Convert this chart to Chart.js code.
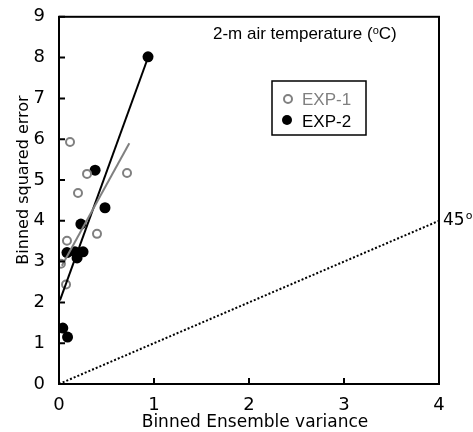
<!DOCTYPE html>
<html>
<head>
<meta charset="utf-8">
<script src="https://cdn.jsdelivr.net/npm/chart.js@4"></script>
<style>
  body { margin: 0; background: #fff; }
  #wrap { width: 473px; height: 432px; }
</style>
</head>
<body>
<div id="wrap"><canvas id="mycanvas"></canvas></div>
<script>
// EXP-1 (open grey circles)
var exp1X = [0.116, 0.295, 0.716, 0.2, 0.4, 0.084, 0.02, 0.074];
var exp1Y = [5.93, 5.15, 5.17, 4.68, 3.68, 3.51, 2.95, 2.44];
// EXP-2 (filled black circles)
var exp2X = [0.937, 0.38, 0.484, 0.23, 0.084, 0.168, 0.253, 0.19, 0.04, 0.09];
var exp2Y = [8.02, 5.24, 4.32, 3.92, 3.22, 3.24, 3.24, 3.09, 1.37, 1.15];
// fitted lines (end points)
var fit1X = [0.03, 0.74];
var fit1Y = [2.9, 5.9];
var fit2X = [0.01, 0.94];
var fit2Y = [2.05, 8.02];
// 45 degree line
var diagX = [0, 4];
var diagY = [0, 4];

var xTicks = [0, 1, 2, 3, 4];
var yTicks = [0, 1, 2, 3, 4, 5, 6, 7, 8, 9];

function pts(xs, ys) {
	var out = [];
	for (var i in xs) {
		out.push({x: xs[i], y: ys[i]});
	}
	return out;
}

var font = "'DejaVu Sans', Verdana, sans-serif";
var arial = "'Liberation Sans', Arial, sans-serif";

var extras = {
	id: 'extras',
	afterDraw: function(chart) {
		var ctx = chart.ctx;
		var a = chart.chartArea;
		var xs = chart.scales.x, ys = chart.scales.y;
		ctx.save();
		// frame
		ctx.strokeStyle = '#000';
		ctx.lineWidth = 2;
		ctx.strokeRect(a.left, a.top, a.right - a.left, a.bottom - a.top);
		// inward ticks
		ctx.beginPath();
		yTicks.forEach(function(v) {
			var p = ys.getPixelForValue(v);
			ctx.moveTo(a.left, p); ctx.lineTo(a.left + 6, p);
		});
		xTicks.forEach(function(v) {
			var p = xs.getPixelForValue(v);
			ctx.moveTo(p, a.bottom); ctx.lineTo(p, a.bottom - 6);
		});
		ctx.stroke();

		ctx.fillStyle = '#000';
		ctx.textBaseline = 'alphabetic';

		// axis titles
		ctx.font = '17px ' + font;
		ctx.textAlign = 'center';
		ctx.fillText('Binned Ensemble variance', 255, 427);
		ctx.save();
		ctx.translate(28, 180);
		ctx.rotate(-Math.PI / 2);
		ctx.font = '16px ' + font;
		ctx.fillText('Binned squared error', 0, 0);
		ctx.restore();

		// title text with superscript
		ctx.textAlign = 'left';
		ctx.font = '17px ' + arial;
		var tx = 213, ty = 39;
		var s1 = '2-m air temperature (';
		ctx.fillText(s1, tx, ty);
		tx += ctx.measureText(s1).width;
		ctx.font = '11px ' + arial;
		ctx.fillText('o', tx, ty - 5);
		tx += ctx.measureText('o').width;
		ctx.font = '17px ' + arial;
		ctx.fillText('C)', tx, ty);

		// 45 label
		ctx.font = '17px ' + font;
		var lx = 443, ly = 225;
		ctx.fillText('45', lx, ly);
		var w45 = ctx.measureText('45').width;
		ctx.font = '11px ' + font;
		ctx.fillText('o', lx + w45 + 1, ly - 6);

		// legend box
		ctx.lineWidth = 1.5;
		ctx.strokeRect(272, 81, 94, 54);
		ctx.font = '17px ' + arial;
		ctx.lineWidth = 2;
		ctx.strokeStyle = '#808080';
		ctx.beginPath(); ctx.arc(288, 99, 4, 0, Math.PI * 2); ctx.stroke();
		ctx.fillStyle = '#808080';
		ctx.fillText('EXP-1', 302, 105);
		ctx.fillStyle = '#000';
		ctx.beginPath(); ctx.arc(287, 120, 5, 0, Math.PI * 2); ctx.fill();
		ctx.fillText('EXP-2', 302, 126.5);
		ctx.restore();
	}
};

var chartdata = {
	datasets: [
		{
			label: '45',
			data: pts(diagX, diagY),
			showLine: true,
			borderColor: '#000',
			borderWidth: 2,
			borderDash: [2, 2],
			pointRadius: 0
		},
		{
			label: 'fit EXP-1',
			data: pts(fit1X, fit1Y),
			showLine: true,
			borderColor: '#808080',
			borderWidth: 2,
			pointRadius: 0
		},
		{
			label: 'fit EXP-2',
			data: pts(fit2X, fit2Y),
			showLine: true,
			borderColor: '#000',
			borderWidth: 2,
			pointRadius: 0
		},
		{
			label: 'EXP-1',
			data: pts(exp1X, exp1Y),
			showLine: false,
			pointRadius: 4,
			pointBorderWidth: 2,
			pointBorderColor: '#808080',
			pointBackgroundColor: 'rgba(255,255,255,0)'
		},
		{
			label: 'EXP-2',
			data: pts(exp2X, exp2Y),
			showLine: false,
			pointRadius: 5.5,
			pointBorderWidth: 0,
			pointBorderColor: '#000',
			pointBackgroundColor: '#000'
		}
	]
};

var ctx = document.getElementById('mycanvas');
var chart = new Chart(ctx, {
	type: 'scatter',
	data: chartdata,
	plugins: [extras],
	options: {
		responsive: true,
		maintainAspectRatio: false,
		animation: false,
		layout: { padding: { top: 15, right: 34, left: 0, bottom: 0 } },
		plugins: {
			legend: { display: false },
			tooltip: { enabled: false }
		},
		scales: {
			x: {
				type: 'linear',
				min: 0, max: 4,
				afterBuildTicks: function(s) { s.ticks = xTicks.map(function(v) { return {value: v}; }); },
				grid: { display: false },
				border: { display: true, color: '#000', width: 2 },
				ticks: { color: '#000', font: { size: 18, family: font }, padding: 3, maxRotation: 0 },
				afterFit: function(s) { s.height = 48; }
			},
			y: {
				type: 'linear',
				min: 0, max: 9,
				afterBuildTicks: function(s) { s.ticks = yTicks.map(function(v) { return {value: v}; }); },
				grid: { display: false },
				border: { display: true, color: '#000', width: 2 },
				ticks: { color: '#000', font: { size: 18, family: font }, padding: 6 },
				afterFit: function(s) { s.width = 59; }
			}
		}
	}
});
</script>
</body>
</html>
